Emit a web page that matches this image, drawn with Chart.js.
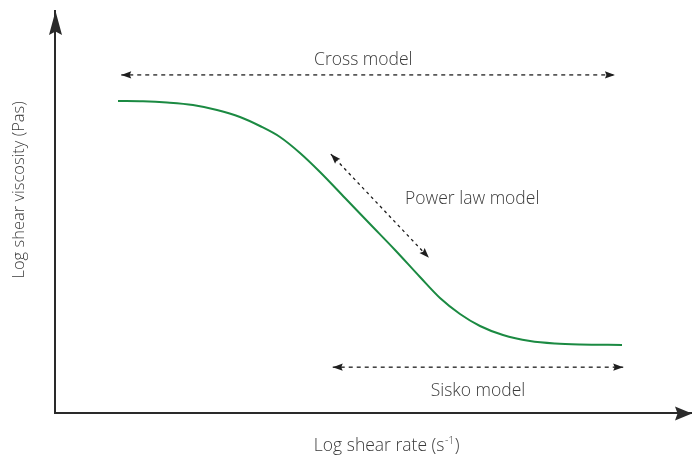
<!DOCTYPE html>
<html>
<head>
<meta charset="utf-8">
<script src="https://cdn.jsdelivr.net/npm/chart.js@4"></script>
<style>
html,body{margin:0;padding:0;background:#fff;}
#wrap{width:692px;height:455px;}
</style>
</head>
<body>
<div id="wrap"><canvas id="c" width="692" height="455"></canvas></div>
<script>
// ---- data (arbitrary log units, 0..100 on both axes) ----
const shearRate = [9.89, 13.81, 17.58, 21.66, 25.43, 29.04, 32.18, 35.32, 38.46, 41.60, 45.53, 49.45, 53.38, 57.30, 60.44, 63.58, 66.72, 70.33, 74.57, 78.49, 82.42, 89.01];
const viscosity = [77.61, 77.54, 77.24, 76.62, 75.37, 73.63, 71.39, 68.66, 64.68, 59.95, 53.48, 47.01, 40.55, 33.83, 28.61, 24.63, 21.64, 19.40, 17.91, 17.29, 17.04, 16.92];

const crossX = [10.4, 87.9];
const crossY = [84.1, 84.1];
const powerX = [43.3, 58.7];
const powerY = [64.4, 38.6];
const siskoX = [43.6, 89.2];
const siskoY = [11.4, 11.4];

const labelText = ['Cross model', 'Power law model', 'Sisko model'];
const labelX = [48.4, 65.5, 66.4];
const labelY = [87.8, 53.2, 5.5];

const xTitle = 'Log shear rate (s';
const xTitleSup = '-1';
const yTitle = 'Log shear viscosity (Pas)';

const pts = (xs, ys) => xs.map((x, i) => ({x: x, y: ys[i]}));

const TEXT = '#3a3a3a';
const AXIS = '#2a2a2a';
const FONT = '"Open Sans", "Noto Sans", sans-serif';
const LABEL_FONT = '300 17.5px ' + FONT;
const TITLE_FONT = '300 17.5px ' + FONT;
const YTITLE_FONT = '300 16.5px ' + FONT;
const SUP_FONT = '300 10.5px ' + FONT;

function arrowHead(ctx, tipX, tipY, fromX, fromY, len, half) {
  const a = Math.atan2(tipY - fromY, tipX - fromX);
  ctx.save();
  ctx.translate(tipX, tipY);
  ctx.rotate(a);
  ctx.beginPath();
  ctx.moveTo(0, 0);
  ctx.lineTo(-len, -half);
  ctx.lineTo(-len * 0.85, 0);
  ctx.lineTo(-len, half);
  ctx.closePath();
  ctx.fill();
  ctx.restore();
}

const decor = {
  id: 'decor',
  afterDraw(chart) {
    const ctx = chart.ctx;
    const xs = chart.scales.x, ys = chart.scales.y;
    const area = chart.chartArea;
    ctx.save();
    ctx.fillStyle = AXIS;
    // axis arrowheads
    arrowHead(ctx, area.left + 0.5, area.top, area.left + 0.5, area.top + 50, 24, 6.5);
    arrowHead(ctx, area.right, area.bottom + 0.5, area.right - 50, area.bottom + 0.5, 17, 7);
    // dashed-arrow heads
    ctx.fillStyle = '#1e1e1e';
    [1, 2, 3].forEach(di => {
      const meta = chart.getDatasetMeta(di);
      const p0 = meta.data[0], p1 = meta.data[meta.data.length - 1];
      arrowHead(ctx, p0.x, p0.y, p1.x, p1.y, 10, 3.6);
      arrowHead(ctx, p1.x, p1.y, p0.x, p0.y, 10, 3.6);
    });
    // labels
    ctx.fillStyle = TEXT;
    ctx.font = LABEL_FONT;
    ctx.textAlign = 'center';
    ctx.textBaseline = 'middle';
    labelText.forEach((t, i) => {
      ctx.fillText(t, xs.getPixelForValue(labelX[i]), ys.getPixelForValue(labelY[i]));
    });
    // x title with superscript
    ctx.font = TITLE_FONT;
    const w1 = ctx.measureText(xTitle).width;
    ctx.font = SUP_FONT;
    const w2 = ctx.measureText(xTitleSup).width;
    ctx.font = TITLE_FONT;
    const w3 = ctx.measureText(')').width;
    const total = w1 + w2 + w3;
    const cx = xs.getPixelForValue(52.0);
    const x0 = cx - total / 2;
    const base = 451;
    ctx.textAlign = 'left';
    ctx.textBaseline = 'alphabetic';
    ctx.fillText(xTitle, x0, base);
    ctx.font = SUP_FONT;
    ctx.fillText(xTitleSup, x0 + w1 + 0.5, base - 7);
    ctx.font = TITLE_FONT;
    ctx.fillText(')', x0 + w1 + w2 + 1, base);
    // y title
    ctx.save();
    ctx.font = YTITLE_FONT;
    ctx.translate(19, ys.getPixelForValue(55.5));
    ctx.rotate(-Math.PI / 2);
    ctx.textAlign = 'center';
    ctx.textBaseline = 'middle';
    ctx.fillText(yTitle, 0, 0);
    ctx.restore();
    ctx.restore();
  }
};

new Chart(document.getElementById('c'), {
  type: 'line',
  data: {
    datasets: [
      {data: pts(shearRate, viscosity), borderColor: '#1b8a42', borderWidth: 2, pointRadius: 0, cubicInterpolationMode: 'monotone', fill: false},
      {data: pts(crossX, crossY), borderColor: '#1e1e1e', borderWidth: 1.3, borderDash: [4, 4], pointRadius: 0, fill: false},
      {data: pts(powerX, powerY), borderColor: '#1e1e1e', borderWidth: 1.3, borderDash: [3, 3.5], pointRadius: 0, fill: false},
      {data: pts(siskoX, siskoY), borderColor: '#1e1e1e', borderWidth: 1.3, borderDash: [4, 4], pointRadius: 0, fill: false}
    ]
  },
  options: {
    responsive: false,
    animation: false,
    devicePixelRatio: 1,
    layout: {padding: {left: 55, top: 11, right: 0, bottom: 42}},
    plugins: {legend: {display: false}, tooltip: {enabled: false}},
    scales: {
      x: {type: 'linear', min: 0, max: 100, ticks: {display: false}, grid: {display: false, drawTicks: false}, border: {display: true, color: AXIS, width: 2}},
      y: {type: 'linear', min: 0, max: 100, ticks: {display: false}, grid: {display: false, drawTicks: false}, border: {display: true, color: AXIS, width: 2}}
    }
  },
  plugins: [decor]
});
</script>
</body>
</html>
